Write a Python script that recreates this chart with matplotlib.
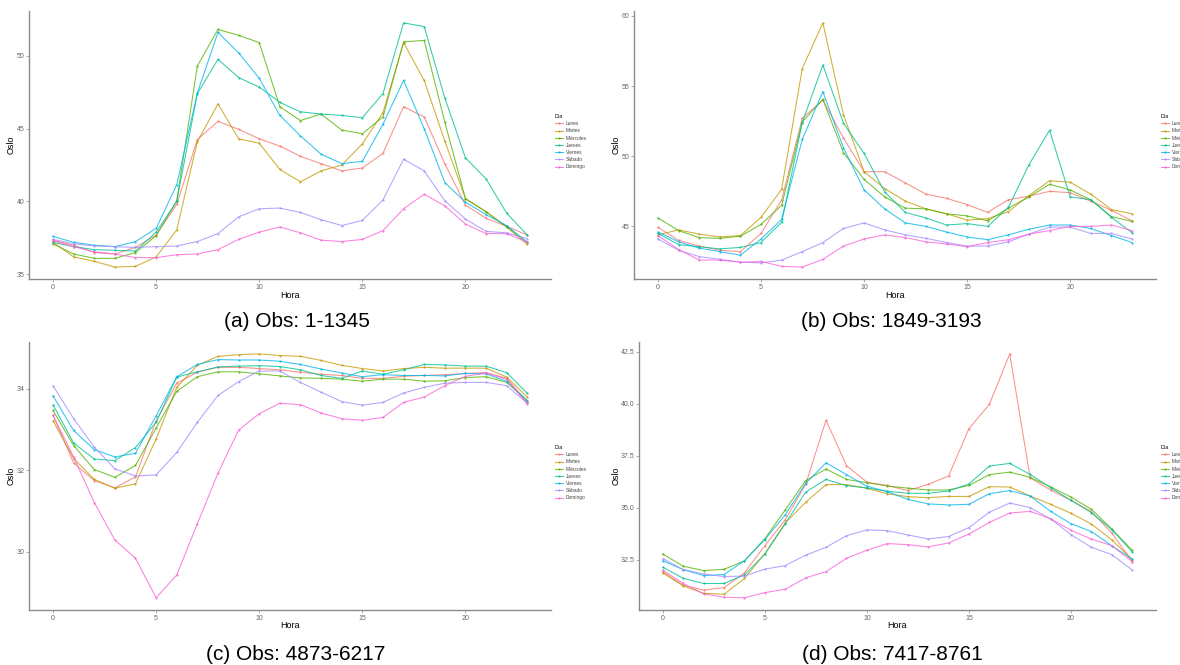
import matplotlib
matplotlib.use("Agg")
import matplotlib.pyplot as plt
import numpy as np

plt.rcParams["font.family"] = ["Liberation Sans", "DejaVu Sans"]

hours = list(range(24))
days = ["Lunes", "Martes", "Miércoles", "Jueves", "Viernes", "Sábado", "Domingo"]
colors = ["#F8766D", "#C49A00", "#53B400", "#00C094", "#00B6EB", "#A58AFF", "#FB61D7"]

# Mean Oslo price by hour, one row per weekday
oslo_a = [
    [37.35, 37.0, 36.5, 36.4, 36.85, 37.7, 39.8, 44.25, 45.5, 44.95, 44.3, 43.8,
     43.1, 42.6, 42.1, 42.3, 43.3, 46.5, 45.8, 42.6, 39.75, 38.85, 38.3, 37.7],
    [37.2, 36.2, 35.9, 35.5, 35.55, 36.2, 38.05, 44.1, 46.7, 44.3, 44.0, 42.2,
     41.35, 42.1, 42.5, 43.95, 46.1, 50.9, 48.3, 44.15, 40.2, 39.3, 38.25, 37.05],
    [37.1, 36.4, 36.1, 36.1, 36.5, 37.65, 40.05, 49.3, 51.8, 51.4, 50.9, 46.5,
     45.55, 46.0, 44.9, 44.65, 45.8, 50.95, 51.05, 45.45, 40.2, 39.3, 38.25, 37.2],
    [37.2, 36.9, 36.7, 36.65, 36.6, 37.9, 40.0, 47.4, 49.75, 48.5, 47.85, 46.8,
     46.15, 46.0, 45.9, 45.75, 47.4, 52.25, 52.0, 47.1, 43.0, 41.55, 39.2, 37.7],
    [37.6, 37.2, 37.0, 36.9, 37.25, 38.15, 41.15, 47.45, 51.6, 50.2, 48.45, 45.9,
     44.5, 43.25, 42.6, 42.75, 45.3, 48.3, 45.0, 41.3, 39.95, 39.1, 38.35, 37.2],
    [37.4, 37.1, 36.95, 36.9, 36.85, 36.9, 36.95, 37.25, 37.8, 38.95, 39.5, 39.55,
     39.25, 38.75, 38.35, 38.7, 40.1, 42.9, 42.1, 40.05, 38.8, 37.95, 37.85, 37.45],
    [37.3, 36.9, 36.55, 36.4, 36.15, 36.15, 36.35, 36.4, 36.7, 37.4, 37.9, 38.25,
     37.85, 37.35, 37.25, 37.4, 38.0, 39.5, 40.5, 39.7, 38.45, 37.8, 37.8, 37.2],
]

oslo_b = [
    [44.93, 44.0, 43.6, 43.3, 43.2, 44.5, 46.9, 52.7, 54.0, 51.3, 48.9, 48.9,
     48.1, 47.3, 47.0, 46.55, 46.0, 46.9, 47.15, 47.5, 47.4, 46.8, 46.15, 45.4],
    [44.4, 44.75, 44.45, 44.25, 44.35, 45.65, 47.65, 56.25, 59.5, 52.95, 48.9, 47.7,
     46.8, 46.25, 45.9, 45.45, 45.55, 46.05, 47.2, 48.25, 48.15, 47.3, 46.2, 45.9],
    [45.6, 44.7, 44.2, 44.15, 44.3, 45.15, 46.5, 52.45, 54.05, 50.25, 48.35, 47.1,
     46.3, 46.25, 45.9, 45.75, 45.4, 46.3, 47.1, 48.0, 47.6, 46.9, 45.7, 45.35],
    [44.5, 43.7, 43.55, 43.4, 43.5, 43.85, 45.3, 52.4, 56.5, 52.35, 50.2, 47.45,
     46.0, 45.6, 45.1, 45.2, 45.0, 46.35, 49.4, 51.85, 47.1, 46.9, 45.65, 44.55],
    [44.6, 43.9, 43.45, 43.2, 42.95, 44.1, 45.5, 51.2, 54.6, 50.6, 47.6, 46.25,
     45.25, 45.0, 44.6, 44.25, 44.05, 44.4, 44.8, 45.1, 45.1, 44.85, 44.35, 43.85],
    [44.1, 43.3, 42.85, 42.65, 42.45, 42.4, 42.6, 43.2, 43.85, 44.85, 45.25, 44.75,
     44.4, 44.15, 43.85, 43.6, 43.6, 43.9, 44.45, 44.95, 44.95, 44.5, 44.5, 44.1],
    [44.35, 43.35, 42.6, 42.6, 42.45, 42.5, 42.15, 42.1, 42.65, 43.6, 44.1, 44.4,
     44.2, 43.9, 43.75, 43.55, 43.85, 44.05, 44.45, 44.7, 45.0, 45.0, 45.1, 44.7],
]

oslo_c = [
    [33.35, 32.18, 31.75, 31.57, 31.84, 33.22, 34.14, 34.41, 34.53, 34.53, 34.5, 34.47,
     34.41, 34.36, 34.33, 34.26, 34.26, 34.31, 34.33, 34.35, 34.38, 34.4, 34.26, 33.67],
    [33.22, 32.29, 31.78, 31.56, 31.67, 32.77, 34.04, 34.58, 34.8, 34.84, 34.86, 34.82,
     34.8, 34.7, 34.58, 34.5, 34.44, 34.5, 34.53, 34.51, 34.51, 34.51, 34.29, 33.8],
    [33.47, 32.61, 32.02, 31.83, 32.12, 33.04, 33.94, 34.3, 34.42, 34.42, 34.37, 34.32,
     34.27, 34.26, 34.24, 34.19, 34.24, 34.24, 34.19, 34.2, 34.28, 34.3, 34.16, 33.71],
    [33.61, 32.67, 32.28, 32.24, 32.56, 33.18, 34.29, 34.42, 34.54, 34.56, 34.57, 34.55,
     34.47, 34.33, 34.26, 34.44, 34.36, 34.47, 34.6, 34.59, 34.56, 34.56, 34.4, 33.89],
    [33.83, 32.98, 32.51, 32.33, 32.42, 33.34, 34.3, 34.6, 34.72, 34.71, 34.71, 34.68,
     34.6, 34.49, 34.39, 34.3, 34.35, 34.33, 34.33, 34.32, 34.38, 34.37, 34.19, 33.71],
    [34.08, 33.27, 32.57, 32.04, 31.86, 31.89, 32.44, 33.18, 33.84, 34.18, 34.44, 34.44,
     34.16, 33.92, 33.69, 33.6, 33.67, 33.9, 34.04, 34.14, 34.16, 34.16, 34.08, 33.65],
    [33.35, 32.33, 31.21, 30.29, 29.84, 28.87, 29.43, 30.69, 31.93, 32.99, 33.39, 33.65,
     33.61, 33.41, 33.27, 33.23, 33.3, 33.67, 33.8, 34.08, 34.31, 34.39, 34.24, 33.63],
]

oslo_d = [
    [31.91, 31.27, 31.03, 31.15, 31.86, 33.17, 34.42, 36.12, 39.21, 37.02, 36.23, 36.07,
     35.82, 36.12, 36.52, 38.8, 39.97, 42.4, 36.43, 35.85, 35.35, 34.81, 33.78, 32.4],
    [31.86, 31.23, 30.88, 30.83, 31.59, 32.79, 34.26, 35.26, 36.11, 36.11, 35.93, 35.67,
     35.53, 35.48, 35.54, 35.54, 36.01, 35.99, 35.56, 35.16, 34.73, 34.21, 33.45, 32.5],
    [32.77, 32.18, 31.97, 32.03, 32.44, 33.51, 34.89, 36.3, 36.86, 36.36, 36.2, 36.04,
     35.94, 35.85, 35.85, 36.07, 36.59, 36.71, 36.46, 36.0, 35.51, 34.92, 33.97, 32.95],
    [32.13, 31.6, 31.35, 31.35, 31.76, 32.76, 34.23, 35.75, 36.36, 36.06, 35.95, 35.79,
     35.69, 35.69, 35.8, 36.14, 37.0, 37.13, 36.6, 35.96, 35.35, 34.76, 33.94, 32.87],
    [32.44, 32.02, 31.73, 31.78, 32.44, 33.46, 34.65, 36.17, 37.16, 36.59, 36.03, 35.77,
     35.4, 35.18, 35.13, 35.16, 35.67, 35.82, 35.56, 34.82, 34.23, 33.85, 33.16, 32.53],
    [32.55, 32.02, 31.81, 31.68, 31.71, 32.04, 32.21, 32.71, 33.09, 33.65, 33.93, 33.89,
     33.69, 33.49, 33.61, 34.04, 34.78, 35.22, 35.0, 34.46, 33.7, 33.09, 32.74, 32.0],
    [31.99, 31.35, 30.85, 30.69, 30.66, 30.91, 31.07, 31.62, 31.92, 32.56, 32.95, 33.27,
     33.22, 33.11, 33.3, 33.73, 34.29, 34.74, 34.82, 34.47, 33.91, 33.49, 33.17, 32.4],
]

yticks_a = [35, 40, 45, 50]
yticks_b = [45, 50, 55, 60]
yticks_c = [30, 32, 34]
yticks_d = [32.5, 35.0, 37.5, 40.0, 42.5]

captions = ["(a) Obs: 1-1345", "(b) Obs: 1849-3193",
            "(c) Obs: 4873-6217", "(d) Obs: 7417-8761"]

W, H = 1180, 665
fig = plt.figure(figsize=(W / 100, H / 100), dpi=100)


def px_rect(x0, y0, x1, y1):
    return [x0 / W, 1 - y1 / H, (x1 - x0) / W, (y1 - y0) / H]


panels = [
    (oslo_a, yticks_a, "{:.0f}", (29.3, 10.7, 551, 279.3), (555, 114), (297, 322)),
    (oslo_b, yticks_b, "{:.0f}", (634.3, 10.7, 1155.7, 279.3), (1161, 114), (891, 322)),
    (oslo_c, yticks_c, "{:.0f}", (29.3, 341.7, 551, 610), (555, 445), (296, 654)),
    (oslo_d, yticks_d, "{:.1f}", (639.3, 341.7, 1155.7, 610), (1161, 445), (892, 654)),
]

for (data, yt, fmt, rect, leg_pos, cap_pos), cap in zip(panels, captions):
    ax = fig.add_axes(px_rect(*rect))
    for vals, day, col in zip(data, days, colors):
        ax.plot(hours, vals, color=col, lw=0.75, alpha=0.8,
                marker="o", ms=1.6, mew=0, label=day)
    ax.margins(x=0.05, y=0.05)
    ax.set_xticks([0, 5, 10, 15, 20])
    ax.set_yticks(yt)
    ax.set_yticklabels([fmt.format(v) for v in yt])
    for s in ["top", "right"]:
        ax.spines[s].set_visible(False)
    for s in ["left", "bottom"]:
        ax.spines[s].set_color("#8a8a8a")
        ax.spines[s].set_linewidth(1.0)
    ax.tick_params(length=2, width=0.5, color="#8a8a8a",
                   labelsize=5, labelcolor="#666666", pad=1.5)
    ax.set_xlabel("Hora", fontsize=6.5)
    ax.set_ylabel("Oslo", fontsize=6.5)
    ax.xaxis.set_label_coords(0.5, -0.042)
    ax.yaxis.set_label_coords(-0.027 if rect[0] < 635 else -0.037, 0.5)

    # legend sits in the right margin of each panel; the right column runs off the page
    leg = ax.legend(loc="upper left",
                    bbox_to_anchor=(leg_pos[0] / W, 1 - leg_pos[1] / H),
                    bbox_transform=fig.transFigure, frameon=False,
                    title="Día", fontsize=3.5, title_fontsize=3.8,
                    handlelength=1.6, handletextpad=0.6, labelspacing=0.45,
                    borderpad=0, borderaxespad=0)
    leg._legend_box.align = "left"
    for t in leg.get_texts():
        t.set_color("#444444")

    fig.text(cap_pos[0] / W, 1 - cap_pos[1] / H, cap,
             ha="center", va="center", fontsize=15)

fig.savefig("out.png", dpi=100)
